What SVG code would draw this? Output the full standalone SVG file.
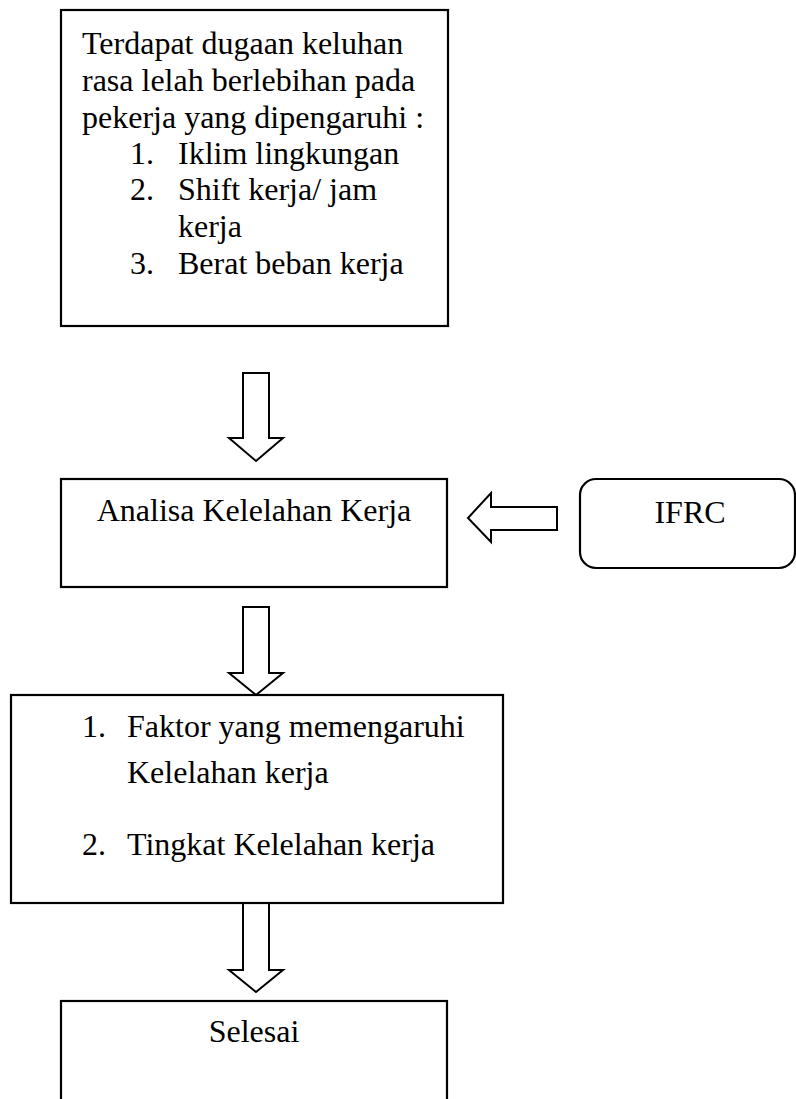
<svg xmlns="http://www.w3.org/2000/svg" width="796" height="1099" viewBox="0 0 796 1099">
<style>
.box{fill:#fff;stroke:#000;stroke-width:2.2}
.arr{fill:#fff;stroke:#000;stroke-width:2;stroke-linejoin:miter}
text{font-family:"Liberation Serif","Times New Roman",serif;font-size:32px;fill:#000}
</style>
<rect width="796" height="1099" fill="#fff"/>
<g id="connectors">
<path class="arr" d="M243,373 H269 V438 H283 L256,461 L229,438 H243 Z"/>
<path class="arr" d="M243,607 H269 V673 H283 L256,695 L229,673 H243 Z"/>
<path class="arr" d="M243,903 H269 V970 H283 L256,992 L229,970 H243 Z"/>
<path class="arr" d="M557,507 V530 H491 V542 L468,518 L491,493 V507 Z"/>
</g>
<g id="node-start">
<rect class="box" x="61" y="10" width="387" height="316"/>
<text x="82" y="54">Terdapat dugaan keluhan</text>
<text x="82" y="91">rasa lelah berlebihan pada</text>
<text x="82" y="128">pekerja yang dipengaruhi :</text>
<text x="130" y="164">1.</text><text x="178" y="164">Iklim lingkungan</text>
<text x="130" y="200">2.</text><text x="178" y="200">Shift kerja/ jam</text>
<text x="178" y="237">kerja</text>
<text x="130" y="274">3.</text><text x="178" y="274">Berat beban kerja</text>
</g>
<g id="node-analisa">
<rect class="box" x="61" y="479" width="386" height="108"/>
<text x="254" y="521" text-anchor="middle">Analisa Kelelahan Kerja</text>
</g>
<g id="node-ifrc">
<rect class="box" x="580" y="479" width="215" height="89" rx="16" ry="16"/>
<text x="690" y="523" text-anchor="middle">IFRC</text>
</g>
<g id="node-faktor">
<rect class="box" x="11" y="695" width="492" height="208"/>
<text x="82" y="737">1.</text><text x="127" y="737">Faktor yang memengaruhi</text>
<text x="127" y="783">Kelelahan kerja</text>
<text x="82" y="855">2.</text><text x="127" y="855">Tingkat Kelelahan kerja</text>
</g>
<g id="node-selesai">
<rect class="box" x="61" y="1001" width="386" height="120"/>
<text x="254" y="1042" text-anchor="middle">Selesai</text>
</g>
</svg>
